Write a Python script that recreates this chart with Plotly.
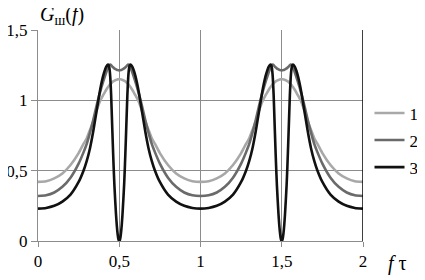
import plotly.graph_objects as go

# Half-period readings (f*tau from 0 to 0.5); curves are symmetric and periodic with period 1
f_half = [0, 0.05, 0.1, 0.15, 0.2, 0.25, 0.28, 0.3, 0.32, 0.34, 0.36, 0.38, 0.4, 0.41,
          0.42, 0.43, 0.435, 0.44, 0.445, 0.45, 0.455, 0.46, 0.465, 0.47, 0.475, 0.48,
          0.485, 0.49, 0.495, 0.5]
g1_half = [0.42, 0.425, 0.445, 0.48, 0.54, 0.625, 0.69, 0.73, 0.79, 0.85, 0.925, 0.99, 1.035,
           1.055, 1.075, 1.093, 1.10, 1.108, 1.115, 1.121, 1.127, 1.132, 1.136, 1.14, 1.143,
           1.145, 1.147, 1.149, 1.15, 1.15]
g2_half = [0.32, 0.325, 0.345, 0.385, 0.45, 0.55, 0.63, 0.69, 0.77, 0.86, 0.96, 1.05, 1.13,
           1.165, 1.20, 1.23, 1.243, 1.252, 1.255, 1.25, 1.243, 1.237, 1.232, 1.227, 1.223,
           1.22, 1.217, 1.215, 1.214, 1.213]
g3_half = [0.23, 0.235, 0.25, 0.28, 0.33, 0.42, 0.50, 0.57, 0.66, 0.78, 0.92, 1.06, 1.17,
           1.21, 1.24, 1.255, 1.25, 1.225, 1.16, 1.04, 0.87, 0.70, 0.54, 0.40, 0.29, 0.19,
           0.11, 0.05, 0.012, 0.0]

series_names = ["1", "2", "3"]
series_colors = ["#a8a8a8", "#6a6a6a", "#111111"]

x_ticks = [0, 0.5, 1, 1.5, 2]
x_ticktext = ["0", "0,5", "1", "1,5", "2"]
y_ticks = [0, 0.5, 1, 1.5]
y_ticktext = ["0", "0,5", "1", "1,5"]


def full_series(fh, gh, periods=2):
    # mirror half period to full period, then repeat
    xs, ys = [], []
    per_x = list(fh) + [1 - v for v in reversed(fh[:-1])]
    per_y = list(gh) + list(reversed(gh[:-1]))
    for p in range(periods):
        start = 0 if p == 0 else 1
        xs += [p + v for v in per_x[start:]]
        ys += per_y[start:]
    return xs, ys


fig = go.Figure()
for i, (name, gh, col) in enumerate(zip(series_names, [g1_half, g2_half, g3_half], series_colors)):
    xs, ys = full_series(f_half, gh)
    fig.add_trace(go.Scatter(x=xs, y=ys, mode="lines", name=name, legendgroup="g%d" % i,
                             line=dict(color=col, width=2.6, shape="spline", smoothing=0.5)))

grid = "#8c8c8c"
font_family = "Liberation Serif, DejaVu Serif, Noto Serif, serif"
fig.update_layout(
    width=425, height=280,
    margin=dict(l=30, r=70, t=22, b=47, autoexpand=False),
    paper_bgcolor="white", plot_bgcolor="white",
    font=dict(family=font_family, size=16, color="black"),
    showlegend=True,
    legend=dict(x=1.02, xanchor="left", y=0.69, yanchor="top",
                font=dict(family=font_family, size=17, color="black"),
                itemwidth=30, bgcolor="rgba(0,0,0,0)", borderwidth=0,
                tracegroupgap=2, traceorder="grouped"),
    xaxis=dict(range=[0, 2], tickvals=x_ticks, ticktext=x_ticktext,
               showgrid=True, gridcolor=grid, gridwidth=1,
               showline=True, linecolor=grid, linewidth=1,
               ticks="outside", ticklen=5, tickcolor=grid,
               zeroline=False, fixedrange=True, automargin=False,
               tickfont=dict(family=font_family, size=17, color="black")),
    yaxis=dict(range=[0, 1.5], tickvals=y_ticks, ticktext=y_ticktext,
               showgrid=True, gridcolor=grid, gridwidth=1,
               showline=True, linecolor=grid, linewidth=1,
               ticks="outside", ticklen=6, tickcolor=grid,
               zeroline=False, fixedrange=True, automargin=False,
               tickfont=dict(family=font_family, size=17, color="black")),
    shapes=[dict(type="line", xref="x", yref="paper", x0=2, x1=2, y0=0, y1=1,
                 line=dict(color="black", width=1.5))],
    annotations=[
        dict(text="<i>G</i><sub>ш</sub>(<i>f</i>)", xref="paper", yref="paper",
             x=0, y=1, xanchor="left", yanchor="bottom", showarrow=False,
             font=dict(family=font_family, size=20, color="black"), yshift=0),
        dict(text="<i>f</i> τ", xref="paper", yref="paper",
             x=1.07, y=0, xanchor="left", yanchor="top", showarrow=False,
             font=dict(family=font_family, size=20, color="black"), yshift=-9),
    ],
)

fig.write_html("out.html")
